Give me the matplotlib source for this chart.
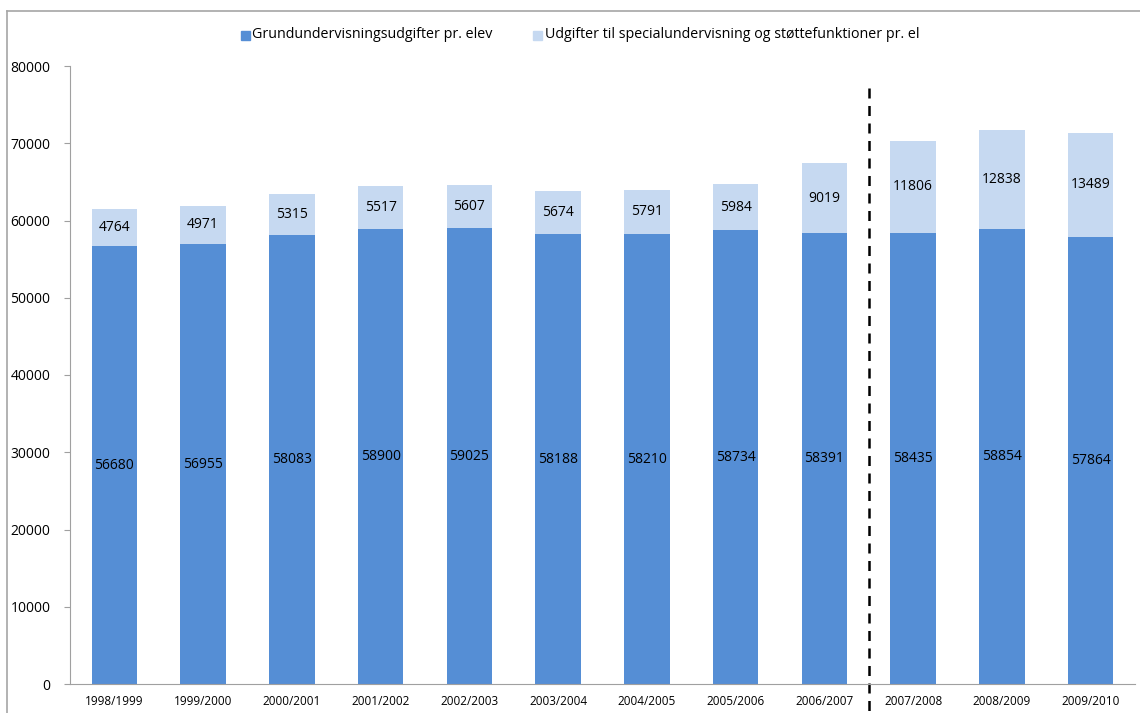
import matplotlib.pyplot as plt
from matplotlib.lines import Line2D
from matplotlib.patches import Rectangle

years = ["1998/1999", "1999/2000", "2000/2001", "2001/2002", "2002/2003", "2003/2004",
         "2004/2005", "2005/2006", "2006/2007", "2007/2008", "2008/2009", "2009/2010"]
grund = [56680, 56955, 58083, 58900, 59025, 58188, 58210, 58734, 58391, 58435, 58854, 57864]
special = [4764, 4971, 5315, 5517, 5607, 5674, 5791, 5984, 9019, 11806, 12838, 13489]

label_grund = "Grundundervisningsudgifter pr. elev"
label_special = "Udgifter til specialundervisning og støttefunktioner pr. el"

dark = "#558ED5"
light = "#C6D9F1"

plt.rcParams['font.family'] = ['Open Sans', 'DejaVu Sans']

fig = plt.figure(figsize=(11.4, 7.13), dpi=100)
ax = fig.add_axes([70 / 1140, 1 - 684 / 713, 1065 / 1140, (684 - 66) / 713])

x = list(range(len(years)))
width = 0.51
ax.bar(x, grund, width, color=dark, label=label_grund)
ax.bar(x, special, width, bottom=grund, color=light, label=label_special)

for i in x:
    ax.text(i, grund[i] / 2, str(grund[i]), ha="center", va="center", fontsize=10, color="black")
    ax.text(i, grund[i] + special[i] / 2, str(special[i]), ha="center", va="center",
            fontsize=10, color="black")

ax.set_xlim(-0.5, len(years) - 0.5)
ax.set_ylim(0, 80000)
ax.set_yticks(range(0, 80001, 10000))
ax.set_xticks(x)
ax.set_xticklabels(years, fontsize=8.5)
ax.tick_params(axis="x", length=0, pad=8)
ax.tick_params(axis="y", labelsize=10, length=4, color="#A0A0A0", pad=10)

for s in ["top", "right"]:
    ax.spines[s].set_visible(False)
ax.spines["left"].set_color("#A0A0A0")
ax.spines["bottom"].set_color("#A0A0A0")

# dashed divider between 2006/2007 and 2007/2008
ax.add_line(Line2D([8.5, 8.5], [77200, -3700], color="black", lw=1.8,
                   linestyle=(0, (4, 3)), clip_on=False))

# chart frame (top and left edges visible)
fig.add_artist(Line2D([7 / 1140, 7 / 1140], [0, 1 - 11 / 713], color="#A6A6A6", lw=1.2,
                      transform=fig.transFigure))
fig.add_artist(Line2D([7 / 1140, 1], [1 - 11 / 713, 1 - 11 / 713], color="#A6A6A6", lw=1.2,
                      transform=fig.transFigure))

# legend
fig.text(252 / 1140, 1 - 35 / 713, label_grund, fontsize=10.3, va="center")
fig.add_artist(Rectangle((241 / 1140, 1 - 40 / 713), 9 / 1140, 9 / 713, color=dark,
                         transform=fig.transFigure))
fig.text(545 / 1140, 1 - 35 / 713, label_special, fontsize=10.3, va="center")
fig.add_artist(Rectangle((533 / 1140, 1 - 40 / 713), 9 / 1140, 9 / 713, color=light,
                         transform=fig.transFigure))
# cover legend text overflow like the clipped original
fig.add_artist(Rectangle((497 / 1140, 1 - 45 / 713), 30 / 1140, 20 / 713, color="white",
                         transform=fig.transFigure, zorder=5))
fig.add_artist(Rectangle((936 / 1140, 1 - 45 / 713), 60 / 1140, 20 / 713, color="white",
                         transform=fig.transFigure, zorder=5))

fig.savefig("out.png", dpi=100)
